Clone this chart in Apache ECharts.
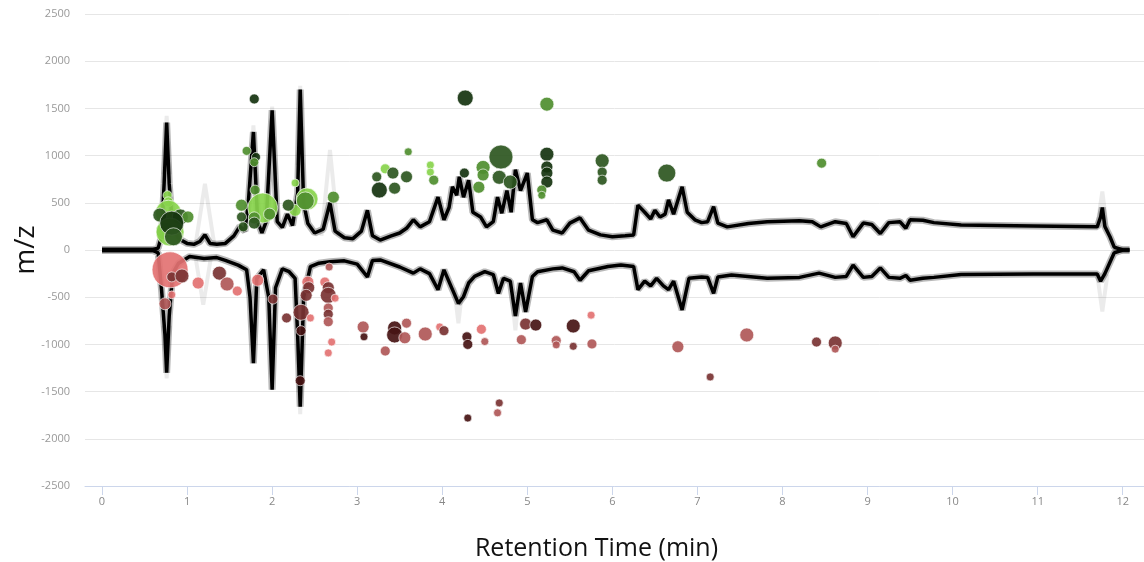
<!DOCTYPE html>
<html>
<head>
<meta charset="utf-8">
<script src="https://cdn.jsdelivr.net/npm/echarts@6/dist/echarts.min.js"></script>
<style>
html,body{margin:0;padding:0;background:#fff;}
#chart{width:1144px;height:562px;}
</style>
</head>
<body>
<div id="chart"></div>
<script>
// X tick labels (retention time, min)
const xTicks = [0,1,2,3,4,5,6,7,8,9,10,11,12];

// Upper (positive mode) chromatogram trace: [time, value]
const posTrace = [
[0,5],[0.3,5],[0.6,5],[0.66,20],[0.7,150],[0.73,700],[0.76,1350],[0.79,700],[0.83,250],[0.9,120],
[1.0,70],[1.08,60],[1.15,90],[1.21,160],[1.27,70],[1.35,60],[1.45,70],[1.55,150],[1.62,250],[1.68,200],
[1.72,500],[1.78,1250],[1.83,300],[1.88,180],[1.93,300],[2.0,1480],[2.06,300],[2.12,240],[2.18,380],[2.24,260],
[2.3,600],[2.33,1700],[2.37,500],[2.42,280],[2.5,180],[2.6,220],[2.68,500],[2.74,200],[2.85,130],[2.95,120],
[3.05,200],[3.12,420],[3.18,150],[3.27,105],[3.4,150],[3.5,180],[3.58,230],[3.66,320],[3.74,245],[3.85,300],
[3.95,560],[4.02,320],[4.08,450],[4.12,670],[4.17,580],[4.2,775],[4.25,560],[4.31,740],[4.36,400],[4.45,350],
[4.52,245],[4.6,300],[4.65,560],[4.7,390],[4.76,630],[4.81,400],[4.86,850],[4.92,630],[5.0,815],[5.06,320],
[5.12,290],[5.23,320],[5.3,210],[5.41,180],[5.5,285],[5.62,340],[5.72,210],[5.86,160],[6.0,140],[6.15,150],
[6.25,160],[6.3,475],[6.38,400],[6.45,330],[6.5,420],[6.56,350],[6.62,380],[6.66,530],[6.72,380],[6.82,670],
[6.88,400],[6.97,320],[7.05,290],[7.12,300],[7.19,460],[7.24,285],[7.35,245],[7.6,280],[7.82,300],[8.2,310],
[8.35,300],[8.45,245],[8.62,300],[8.75,280],[8.83,140],[8.95,285],[9.05,270],[9.15,175],[9.25,290],[9.38,300],
[9.45,230],[9.5,320],[9.65,315],[9.78,290],[10.1,265],[10.95,255],[11.7,245],[11.74,350],[11.76,450],[11.79,250],
[11.85,140],[11.9,30],[12.0,0],[12.08,0]
];

// Lower (negative mode) chromatogram trace: [time, value]
const negTrace = [
[0,-5],[0.3,-5],[0.6,-5],[0.66,-30],[0.7,-420],[0.74,-900],[0.76,-1300],[0.79,-700],[0.83,-250],[0.9,-140],
[1.03,-70],[1.2,-90],[1.35,-80],[1.45,-110],[1.6,-160],[1.7,-210],[1.74,-500],[1.78,-1200],[1.82,-300],[1.9,-210],
[1.96,-500],[2.0,-1480],[2.04,-400],[2.12,-200],[2.2,-230],[2.27,-300],[2.3,-900],[2.33,-1660],[2.37,-500],[2.45,-175],
[2.55,-140],[2.68,-125],[2.85,-115],[3.0,-150],[3.12,-285],[3.18,-110],[3.27,-105],[3.5,-180],[3.66,-245],[3.74,-200],
[3.85,-250],[3.95,-420],[4.02,-210],[4.12,-420],[4.19,-565],[4.25,-495],[4.31,-350],[4.38,-280],[4.5,-230],[4.6,-260],
[4.66,-460],[4.72,-300],[4.8,-330],[4.86,-700],[4.92,-350],[4.98,-655],[5.06,-280],[5.12,-230],[5.3,-200],[5.41,-190],
[5.55,-230],[5.62,-320],[5.72,-220],[5.95,-175],[6.1,-160],[6.25,-175],[6.3,-420],[6.38,-330],[6.45,-380],[6.52,-300],
[6.6,-380],[6.66,-420],[6.72,-330],[6.82,-635],[6.9,-300],[7.05,-285],[7.12,-290],[7.19,-460],[7.24,-285],[7.4,-265],
[7.82,-300],[8.2,-290],[8.43,-245],[8.62,-290],[8.75,-280],[8.83,-160],[8.95,-290],[9.05,-280],[9.15,-190],[9.25,-290],
[9.38,-300],[9.45,-270],[9.5,-320],[9.65,-300],[9.78,-290],[10.1,-260],[10.95,-255],[11.7,-255],[11.74,-330],[11.76,-350],
[11.79,-250],[11.85,-130],[11.9,-30],[12.0,0],[12.08,0]
];

// Faint replicate peaks visible in grey behind the main traces
const posGhost = [
[0.72,800],[0.76,1420],[0.80,800],[0.81,'-'],
[1.10,60],[1.21,700],[1.32,60],[1.33,'-'],
[1.74,700],[1.78,1320],[1.82,700],[1.83,'-'],
[1.96,800],[2.0,1520],[2.04,800],[2.05,'-'],
[2.30,900],[2.33,1740],[2.36,900],[2.37,'-'],
[2.58,150],[2.68,1060],[2.78,150],[2.79,'-'],
[11.70,250],[11.76,620],[11.82,200]
];
const negGhost = [
[0.72,-800],[0.76,-1360],[0.80,-800],[0.81,'-'],
[1.10,-80],[1.19,-580],[1.28,-80],[1.29,'-'],
[2.30,-1000],[2.33,-1740],[2.36,-1000],[2.37,'-'],
[4.14,-400],[4.19,-775],[4.24,-400],[4.25,'-'],
[4.82,-500],[4.86,-850],[4.90,-500],[4.91,'-'],
[11.70,-260],[11.76,-650],[11.82,-260]
];

// Positive-mode features: [time, m/z, bubble size, shade (0 light .. 3 darkest)]
const posFeatures = [
[1.79,1600,10,3],[1.70,1050,9,1],[1.81,985,9,3],[1.79,930,9,1],[0.77,580,9,0],[0.78,510,10,0],
[0.78,390,26,0],[0.68,370,14,2],[0.92,350,16,2],[1.01,350,12,1],[0.74,200,18,1],[0.80,190,28,0],
[0.82,285,24,3],[0.84,140,18,2],
[1.80,635,10,1],[1.64,475,12,1],[1.89,445,30,0],[1.64,350,10,2],[1.66,245,10,2],[1.79,340,12,1],
[1.79,285,12,2],[1.97,380,12,1],[2.27,710,8,0],[2.27,420,12,0],[2.19,475,12,2],[2.41,540,22,0],
[2.39,520,18,1],[2.72,560,12,1],
[3.23,775,10,2],[3.33,860,10,0],[3.42,815,12,2],[3.58,775,12,2],[3.26,635,16,3],[3.44,655,12,2],
[3.60,1040,8,1],[3.86,900,8,0],[3.86,825,8,0],[3.90,740,10,1],[4.27,1610,16,3],[4.26,815,10,3],
[4.48,875,14,1],[4.48,795,12,1],[4.43,665,12,1],[4.69,985,24,2],[4.67,770,14,2],[4.80,720,14,2],
[5.23,1545,14,1],[5.23,1015,14,3],[5.23,880,12,3],[5.23,815,12,3],[5.23,720,12,3],[5.17,635,10,1],
[5.17,580,8,1],[5.88,945,14,2],[5.88,825,10,2],[5.88,740,10,2],[6.64,815,18,2],[8.46,920,10,1]
];

// Negative-mode features: [time, m/z, bubble size, shade]
const negFeatures = [
[0.80,-210,36,0],[0.82,-285,10,2],[0.94,-275,14,2],[0.82,-475,8,0],[0.74,-570,12,1],[1.13,-350,12,0],
[1.38,-245,14,2],[1.47,-360,14,1],[1.59,-435,10,0],[1.83,-320,12,0],[2.01,-520,10,2],[2.17,-720,10,2],
[2.34,-660,16,2],[2.34,-855,10,3],[2.33,-1385,10,3],[2.42,-340,12,0],[2.43,-400,12,2],[2.40,-480,12,2],
[2.45,-720,8,0],[2.67,-180,8,1],[2.62,-340,10,0],[2.66,-400,12,2],[2.66,-480,16,2],[2.74,-510,8,0],
[2.66,-615,10,1],[2.66,-680,10,2],[2.66,-760,10,1],[2.70,-975,8,0],[2.66,-1090,8,0],
[3.07,-815,12,1],[3.08,-920,8,3],[3.33,-1070,10,1],[3.44,-825,14,3],[3.44,-900,16,3],[3.58,-775,10,1],
[3.56,-930,12,1],[3.80,-890,14,1],[3.97,-815,8,0],[4.02,-855,10,2],[4.29,-920,10,3],[4.30,-1000,10,3],
[4.46,-840,10,0],[4.50,-970,8,1],[4.30,-1780,8,3],[4.67,-1620,8,2],[4.65,-1725,8,1],[4.93,-950,10,1],
[4.98,-785,12,2],[5.10,-795,12,3],[5.34,-960,10,1],[5.34,-1005,8,1],[5.54,-805,14,3],[5.54,-1020,8,2],
[5.75,-690,8,0],[5.76,-995,10,1],[6.77,-1025,12,1],[7.15,-1345,8,2],[7.58,-900,14,1],[8.40,-975,10,2],
[8.62,-985,14,2],[8.62,-1050,8,1]
];

const greenShades = ['#88d44c','#4f8e2f','#2c561f','#15330f'];
const redShades = ['#e37272','#b05858','#7a3333','#461313'];

const chart = echarts.init(document.getElementById('chart'));

function bubbleSeries(name, data, shades) {
  return {
    name: name, type: 'scatter', data: data, z: 5,
    symbolSize: function (v) { return v[2]; },
    itemStyle: {
      color: function (p) { return shades[p.data[3]]; },
      opacity: 0.92,
      borderColor: 'rgba(255,255,255,0.7)',
      borderWidth: 1
    }
  };
}
function lineSeries(data, color, width, z) {
  return { type: 'line', data: data, showSymbol: false, symbol: 'none', z: z,
    lineStyle: { color: color, width: width }, connectNulls: false, silent: true };
}

chart.setOption({
  animation: false,
  backgroundColor: '#fff',
  grid: { left: 85, right: 0, top: 14, bottom: 76, outerBoundsMode: 'none', containLabel: false },
  xAxis: {
    type: 'value', min: -0.2, max: 12.25,
    name: 'Retention Time (min)', nameLocation: 'middle', nameGap: 50, nameMoveOverlap: false,
    nameTextStyle: { fontFamily: 'Open Sans', fontSize: 25, color: '#111', padding: [0, 36, 0, 0] },
    axisLine: { show: true, onZero: false, lineStyle: { color: '#ccd6eb', width: 1 } },
    axisTick: { show: true, customValues: xTicks, length: 9, lineStyle: { color: '#ccd6eb' } },
    axisLabel: { customValues: xTicks, color: '#888', fontSize: 11, fontFamily: 'Open Sans', margin: 10 },
    splitLine: { show: false }
  },
  yAxis: {
    type: 'value', min: -2500, max: 2500, interval: 500,
    name: 'm/z', nameLocation: 'middle', nameGap: 45, nameMoveOverlap: false,
    nameTextStyle: { fontFamily: 'Open Sans', fontSize: 28, color: '#111' },
    axisLine: { show: false }, axisTick: { show: false },
    axisLabel: { color: '#999', fontSize: 11, fontFamily: 'Open Sans', margin: 15,
      formatter: function (v) { return String(v); } },
    splitLine: { show: true, lineStyle: { color: '#e6e6e6', width: 1 } }
  },
  series: [
    lineSeries(posGhost, 'rgba(0,0,0,0.08)', 4, 1),
    lineSeries(negGhost, 'rgba(0,0,0,0.08)', 4, 1),
    lineSeries(posTrace, 'rgba(0,0,0,0.28)', 7, 2),
    lineSeries(negTrace, 'rgba(0,0,0,0.28)', 7, 2),
    lineSeries(posTrace, '#000', 3.5, 3),
    lineSeries(negTrace, '#000', 3.5, 3),
    bubbleSeries('Positive', posFeatures, greenShades),
    bubbleSeries('Negative', negFeatures, redShades)
  ]
});
</script>
</body>
</html>
